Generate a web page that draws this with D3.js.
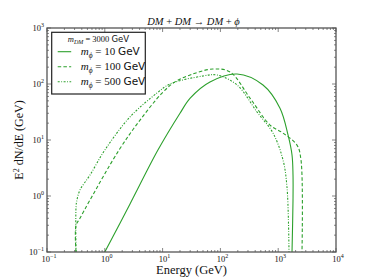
<!DOCTYPE html>
<html>
<head>
<meta charset="utf-8">
<script src="https://cdn.jsdelivr.net/npm/d3@7"></script>
<style>
  body { margin: 0; background: #fff; }
  text { fill: #111; }
</style>
</head>
<body>
<div id="chart"></div>
<script>
// spectra (E in GeV, E^2 dN/dE in GeV)
const energy10 = [1.0, 2.73, 8.3, 20, 30, 66, 194, 546, 1074, 1479, 1734, 1804, 1804, 1734];
const flux10   = [0.1, 0.72, 6.6, 30, 56, 109, 151, 96, 37, 12.3, 5.4, 2.37, 0.85, 0.1];

const energy100 = [0.318, 0.318, 0.372, 0.555, 1.76, 4.07, 9.8, 16.4, 30, 74, 147, 325, 721, 1211, 2113, 2479, 2580];
const flux100   = [0.1, 0.30, 0.40, 0.85, 6.6, 22.7, 69, 109, 145, 185, 164, 56, 18.5, 13.3, 8.1, 4.4, 0.1];

const energy500 = [0.318, 0.318, 0.33, 0.372, 0.555, 1.0, 2.73, 8.0, 13.4, 50, 87, 194, 430, 813, 1211, 1419, 1538];
const flux500   = [0.1, 0.64, 0.85, 1.28, 2.37, 6.6, 25.8, 69, 100, 139, 145, 96, 31.6, 13.3, 4.4, 1.45, 0.1];

const seriesLabels = ["10", "100", "500"];
const xTicks = [-1, 0, 1, 2, 3, 4];
const yTicks = [-1, 0, 1, 2, 3];

class SpectrumVis {
    constructor(parentElement) {
        this.parentElement = parentElement;
        this.initVis();
    }

    initVis() {
        let vis = this;

        vis.margin = { top: 28, right: 38, bottom: 28, left: 47 };
        vis.width = 374 - vis.margin.left - vis.margin.right;
        vis.height = 280 - vis.margin.top - vis.margin.bottom;

        vis.svg = d3.select("#" + vis.parentElement).append("svg")
            .attr("width", 374)
            .attr("height", 280)
            .append("g")
            .attr("transform", `translate(${vis.margin.left}, ${vis.margin.top})`);

        vis.x = d3.scaleLog().domain([0.1, 1e4]).range([0, vis.width]);
        vis.y = d3.scaleLog().domain([0.1, 1e3]).range([vis.height, 0]);

        vis.color = "#2ca02c";
        vis.serif = "'Liberation Serif', 'DejaVu Serif', serif";
        vis.sans = "'DejaVu Sans', sans-serif";

        vis.svg.append("defs").append("clipPath")
            .attr("id", "plot-clip")
            .append("rect")
            .attr("width", vis.width)
            .attr("height", vis.height);

        vis.drawLines();
        vis.drawAxes();
        vis.drawLegend();
        vis.drawLabels();
    }

    drawLines() {
        let vis = this;
        const line = d3.line()
            .x(d => vis.x(d[0]))
            .y(d => vis.y(d[1]))
            .curve(d3.curveCatmullRom.alpha(0.5));

        vis.series = [
            { pts: d3.zip(energy10, flux10), dash: null },
            { pts: d3.zip(energy100, flux100), dash: "3.5,2.2" },
            { pts: d3.zip(energy500, flux500), dash: "2,1.5,0.9,1.5" }
        ];

        const g = vis.svg.append("g").attr("clip-path", "url(#plot-clip)");
        g.selectAll("path.spec")
            .data(vis.series)
            .join("path")
            .attr("class", "spec")
            .attr("d", d => line(d.pts))
            .attr("fill", "none")
            .attr("stroke", vis.color)
            .attr("stroke-width", 1.1)
            .attr("stroke-dasharray", d => d.dash);
    }

    drawAxes() {
        let vis = this;
        const majorLen = 4, minorLen = 2;

        // minor tick positions
        const minorX = [], minorY = [];
        for (let p = -1; p < 4; p++) for (let k = 2; k < 10; k++) minorX.push(k * Math.pow(10, p));
        for (let p = -1; p < 3; p++) for (let k = 2; k < 10; k++) minorY.push(k * Math.pow(10, p));

        const ticks = vis.svg.append("g").attr("stroke", "#333").attr("stroke-width", 0.6);

        // ticks point inward on all four sides
        const addX = (vals, len) => {
            vals.forEach(v => {
                ticks.append("line").attr("x1", vis.x(v)).attr("x2", vis.x(v))
                    .attr("y1", vis.height).attr("y2", vis.height - len);
                ticks.append("line").attr("x1", vis.x(v)).attr("x2", vis.x(v))
                    .attr("y1", 0).attr("y2", len);
            });
        };
        const addY = (vals, len) => {
            vals.forEach(v => {
                ticks.append("line").attr("y1", vis.y(v)).attr("y2", vis.y(v))
                    .attr("x1", 0).attr("x2", len);
                ticks.append("line").attr("y1", vis.y(v)).attr("y2", vis.y(v))
                    .attr("x1", vis.width).attr("x2", vis.width - len);
            });
        };
        addX(minorX, minorLen);
        addX(xTicks.map(p => Math.pow(10, p)), majorLen);
        addY(minorY, minorLen);
        addY(yTicks.map(p => Math.pow(10, p)), majorLen);

        // frame
        vis.svg.append("rect")
            .attr("width", vis.width)
            .attr("height", vis.height)
            .attr("fill", "none")
            .attr("stroke", "#555")
            .attr("stroke-width", 1.3);

        // tick labels 10^p
        const powLabel = (sel, p) => {
            sel.append("tspan").text("10");
            sel.append("tspan").attr("dy", -4).style("font-size", "6px").text(p < 0 ? "\u22121" : p);
        };

        xTicks.forEach(p => {
            const t = vis.svg.append("text")
                .attr("x", vis.x(Math.pow(10, p)) + 2)
                .attr("y", vis.height + 9.5)
                .attr("text-anchor", "middle")
                .style("font-family", vis.serif)
                .style("font-size", "8.5px");
            powLabel(t, p);
        });

        yTicks.forEach(p => {
            const t = vis.svg.append("text")
                .attr("x", -3)
                .attr("y", vis.y(Math.pow(10, p)) + 3)
                .attr("text-anchor", "end")
                .style("font-family", vis.serif)
                .style("font-size", "8.5px");
            powLabel(t, p);
        });
    }

    drawLegend() {
        let vis = this;
        const lg = vis.svg.append("g").attr("transform", "translate(4.7, 4.3)");

        lg.append("rect")
            .attr("width", 93.6)
            .attr("height", 61.7)
            .attr("fill", "#fff")
            .attr("stroke", "#222")
            .attr("stroke-width", 1.2);

        // legend title
        const title = lg.append("text")
            .attr("x", 46.8)
            .attr("y", 9.8)
            .attr("text-anchor", "middle")
            .style("font-size", "8.5px");
        title.append("tspan").style("font-family", vis.serif).style("font-style", "italic").text("m");
        title.append("tspan").attr("dy", 1.8).style("font-family", vis.serif).style("font-style", "italic")
            .style("font-size", "6px").text("DM");
        title.append("tspan").attr("dy", -1.8).style("font-family", vis.serif).text(" = 3000 ");
        title.append("tspan").style("font-family", vis.sans).text("GeV");

        vis.series.forEach((s, i) => {
            const yy = 19.4 + i * 15;
            lg.append("line")
                .attr("x1", 6).attr("x2", 19.5)
                .attr("y1", yy).attr("y2", yy)
                .attr("stroke", vis.color)
                .attr("stroke-width", 1.1)
                .attr("stroke-dasharray", s.dash);

            const t = lg.append("text")
                .attr("x", 29)
                .attr("y", yy + 3.8)
                .style("font-size", "11px");
            t.append("tspan").style("font-family", vis.serif).style("font-style", "italic").text("m");
            t.append("tspan").attr("dy", 2.5).style("font-family", vis.serif).style("font-style", "italic")
                .style("font-size", "7.5px").text("\u03d5");
            t.append("tspan").attr("dy", -2.5).style("font-family", vis.serif).text(" = " + seriesLabels[i] + " ");
            t.append("tspan").style("font-family", vis.sans).style("font-size", "10.5px").text("GeV");
        });
    }

    drawLabels() {
        let vis = this;

        const title = vis.svg.append("text")
            .attr("x", vis.width / 2 + 2)
            .attr("y", -3)
            .attr("text-anchor", "middle")
            .style("font-family", vis.serif)
            .style("font-size", "10.5px");
        title.append("tspan").style("font-style", "italic").text("DM");
        title.append("tspan").text(" + ");
        title.append("tspan").style("font-style", "italic").text("DM");
        title.append("tspan").text(" \u2192 ");
        title.append("tspan").style("font-style", "italic").text("DM");
        title.append("tspan").text(" + ");
        title.append("tspan").style("font-style", "italic").text("\u03d5");

        vis.svg.append("text")
            .attr("x", vis.width / 2)
            .attr("y", vis.height + 22)
            .attr("text-anchor", "middle")
            .style("font-family", vis.serif)
            .style("font-size", "12.5px")
            .text("Energy (GeV)");

        const yl = vis.svg.append("text")
            .attr("transform", `translate(-24, ${vis.height / 2}) rotate(-90)`)
            .attr("text-anchor", "middle")
            .style("font-family", vis.serif)
            .style("font-size", "12px");
        yl.append("tspan").text("E");
        yl.append("tspan").attr("dy", -4).style("font-size", "8px").text("2");
        yl.append("tspan").attr("dy", 4).text(" dN/dE (GeV)");
    }
}

new SpectrumVis("chart");
</script>
</body>
</html>
